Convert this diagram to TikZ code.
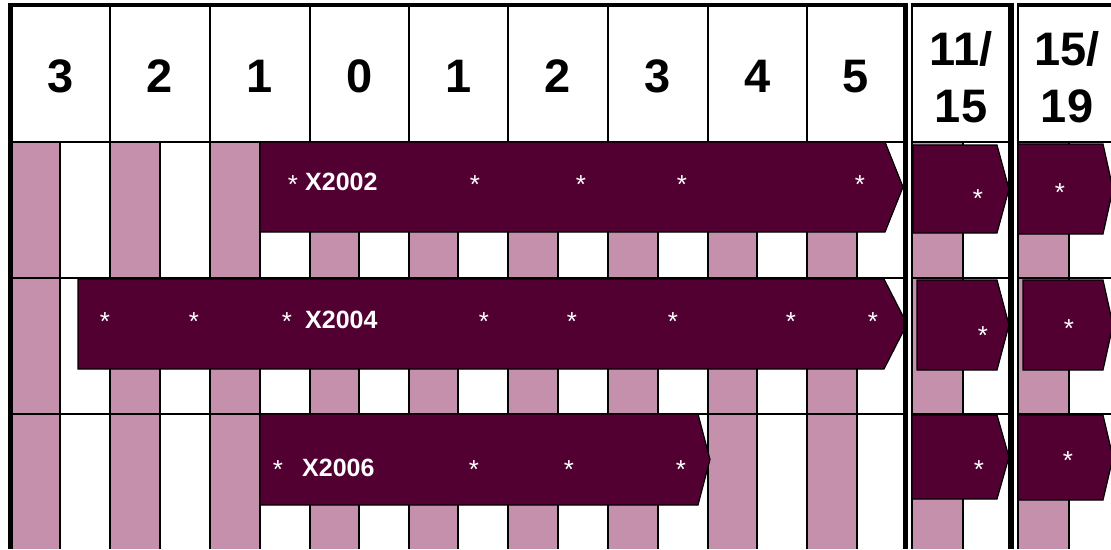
\documentclass[tikz,border=0pt]{standalone}
\usepackage{fontspec}
\setmainfont{Liberation Sans}
\definecolor{barcol}{RGB}{82,0,50}
\definecolor{stripecol}{RGB}{196,144,172}
\newcommand\chevshape[5]{%
  \filldraw[chevbox] (#1,#4) -- (#2,#4) -- (#3,{(#4+#5)/2}) -- (#2,#5) -- (#1,#5) -- cycle;}
\begin{document}
\begin{tikzpicture}[x=1pt,y=-1pt,
  gridline/.style={line width=1.8pt, black},
  chevbox/.style={fill=barcol, draw=black, line width=1.2pt, line join=miter},
  hdr/.style={font=\fontsize{47}{57}\selectfont\bfseries, inner sep=0pt, align=center},
  starmark/.style={text=white, font=\fontsize{26}{28}\selectfont, anchor=base, inner sep=0pt},
  lbl/.style={text=white, font=\fontsize{25}{28}\selectfont\bfseries, anchor=base west, inner sep=0pt}]
\useasboundingbox (0,0) rectangle (1111,549);
\fill[white] (0,0) rectangle (1111,549);
% pink stripes
\foreach \a/\b in {11/60,110/160,210/260,310/359,409/458,508/558,608/658,708/757,807/857,912/963,1018/1069}
  \fill[stripecol] (\a,142) rectangle (\b,549);
% body vertical lines
\foreach \x in {60,110,160,210,260,310,359,409,458,508,558,608,658,708,757,807,857,963,1069}
  \draw[gridline] (\x,142) -- (\x,549);
% header vertical lines
\foreach \x in {110,210,310,409,508,608,708,807}
  \draw[gridline] (\x,5) -- (\x,142);
% horizontal lines
\foreach \y in {142,278,414} {
  \draw[gridline] (10,\y) -- (905,\y);
  \draw[gridline] (912,\y) -- (1011,\y);
  \draw[gridline] (1018,\y) -- (1111,\y);
}
\draw[gridline] (912,5) -- (912,549);
\draw[gridline] (1018,5) -- (1018,549);
% arrows
\chevshape{260}{885}{903}{142}{232}
\chevshape{78}{884}{907}{279}{369}
\chevshape{260}{698}{710}{414}{505}
\chevshape{913}{997}{1009}{145}{233}
\chevshape{917}{997}{1009}{280}{370}
\chevshape{912}{997}{1009}{415}{499}
\chevshape{1018}{1103}{1113}{144}{234}
\chevshape{1023}{1103}{1113}{280}{370}
\chevshape{1018}{1103}{1113}{415}{500}
% thick borders
\draw[line width=4pt] (8,5) -- (908,5);
\draw[line width=5pt] (10.5,3) -- (10.5,549);
\draw[line width=5pt] (905.5,3) -- (905.5,549);
\draw[line width=4pt] (911,5) -- (1014,5);
\draw[line width=6pt] (1011,3) -- (1011,549);
\draw[line width=4pt] (1017,5) -- (1111,5);
% header texts
\foreach \t/\x [count=\i] in {3/60.5,2/160,1/260,0/359.5,1/458.5,2/558,3/658,4/757.5,5/856}
  \node[hdr] (h\i) at (\x,76.5) {\t};
\node[hdr] (h10) at (961,77) {11/\\15};
\node[hdr] (h11) at (1067,77) {15/\\19};
% labels
\node[lbl] (l1) at (305,190) {X2002};
\node[lbl] (l2) at (305,328) {X2004};
\node[lbl] (l3) at (302,476) {X2006};
% stars
\foreach \x/\y [count=\i] in {293/193,475/193,581/193,682/193,860/193,978/207,1060/201,
  105/330,194/330,287/330,484/330,572/330,673/330,791/330,873/330,983/344,1069/337,
  278/478,474/478,569/478,681/478,979/478,1068/469}
  \node[starmark] (s\i) at (\x,\y) {*};
\end{tikzpicture}
\end{document}
